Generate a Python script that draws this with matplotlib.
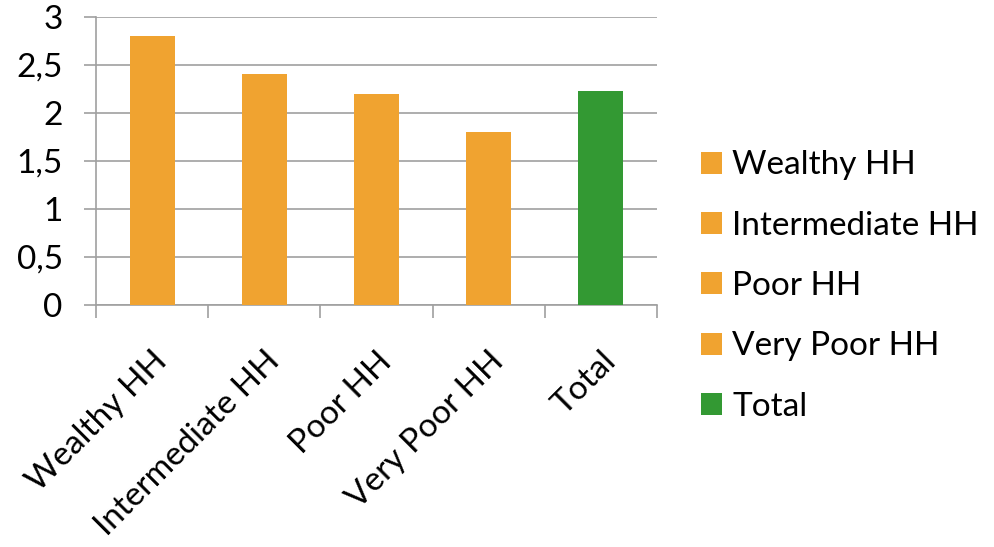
import matplotlib
matplotlib.use("Agg")
import matplotlib.pyplot as plt
from matplotlib.patches import Patch
from matplotlib.ticker import FuncFormatter

categories = ["Wealthy HH", "Intermediate HH", "Poor HH", "Very Poor HH", "Total"]
values = [2.8, 2.4, 2.2, 1.8, 2.23]
colors = ["#F0A330", "#F0A330", "#F0A330", "#F0A330", "#339933"]
yticks = [0, 0.5, 1, 1.5, 2, 2.5, 3]

plt.rcParams['font.family'] = ['Lato', 'DejaVu Sans']

fig = plt.figure(figsize=(9.94, 5.47), dpi=100)
ax = fig.add_axes([0.0966, 0.4433, 0.5644, 0.5257])

x = list(range(len(categories)))
ax.bar(x, values, width=0.4, color=colors, zorder=3)

ax.set_xlim(-0.5, len(categories) - 0.5)
ax.set_ylim(0, 3)
ax.set_yticks(yticks)
ax.yaxis.set_major_formatter(FuncFormatter(lambda v, p: (f"{v:g}").replace(".", ",")))
ax.grid(axis='y', color='#A0A0A0', linewidth=1.2, zorder=0)

for s in ['top', 'right']:
    ax.spines[s].set_visible(False)
for s in ['left', 'bottom']:
    ax.spines[s].set_color('#A0A0A0')
    ax.spines[s].set_linewidth(1.2)

# category boundary ticks
ax.set_xticks([i - 0.5 for i in range(len(categories) + 1)], minor=False)
ax.set_xticklabels([])
ax.tick_params(axis='x', which='major', length=9, color='#A0A0A0', width=1.2)
ax.set_xticks(x, minor=True)
ax.set_xticklabels(categories, minor=True, rotation=45, ha='right',
                   rotation_mode='anchor', fontsize=24)
ax.tick_params(axis='x', which='minor', length=0, pad=30)
ax.tick_params(axis='y', length=9, color='#A0A0A0', width=1.2, labelsize=24, pad=15)

handles = [Patch(facecolor=c, edgecolor='none') for c in colors]
fig.legend(handles, categories, loc='center left', bbox_to_anchor=(0.692, 0.477),
           frameon=False, fontsize=24, handlelength=0.63, handleheight=0.63,
           handletextpad=0.3, labelspacing=0.91, borderaxespad=0)

fig.savefig("out.png", dpi=100)
